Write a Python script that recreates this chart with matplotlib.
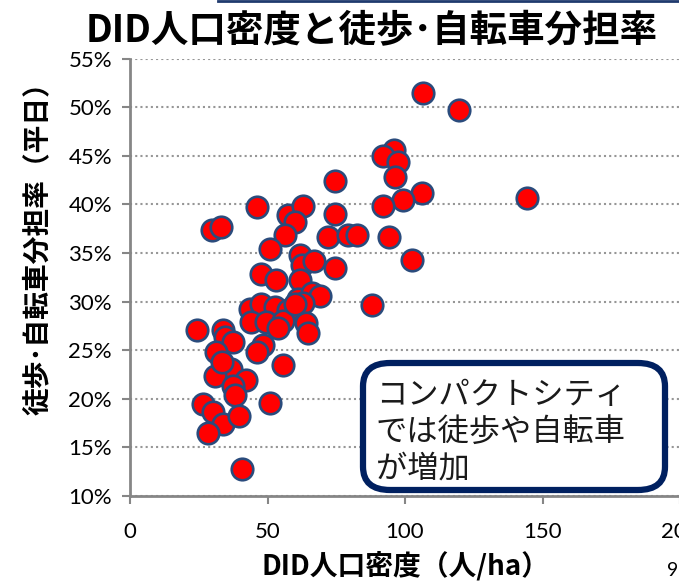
import matplotlib.pyplot as plt
from matplotlib.patches import FancyBboxPatch
from matplotlib.lines import Line2D
from matplotlib.ticker import FuncFormatter

plt.rcParams['font.family'] = ['Noto Sans CJK JP', 'DejaVu Sans']

# DID population density (persons/ha) and walk+bicycle share (%, weekday)
density = [106.4, 119.6, 144.5, 96.1, 91.9, 97.6, 96.4, 106.1, 99.1, 92.1,
           94.3, 102.4, 87.9, 74.5, 74.5, 71.9, 79.4, 82.7, 74.5, 46.1,
           29.7, 33.0, 57.6, 63.0, 60.0, 56.4, 50.9, 61.8, 62.4, 66.9,
           47.6, 53.1, 61.8, 61.2, 66.1, 69.1, 63.0, 43.6, 47.6, 52.7,
           57.6, 44.0, 49.5, 55.5, 64.0, 64.6, 53.9, 24.2, 33.7, 34.5,
           37.3, 31.3, 48.5, 46.3, 55.5, 36.6, 30.9, 42.2, 37.6, 38.2,
           26.4, 30.3, 33.7, 28.2, 39.8, 50.9, 40.6, 33.3, 60.0]
share = [51.5, 49.7, 40.7, 45.6, 45.0, 44.4, 42.8, 41.2, 40.5, 39.8,
         36.6, 34.3, 29.7, 42.4, 39.0, 36.6, 36.9, 36.9, 33.5, 39.7,
         37.4, 37.7, 38.9, 39.8, 38.2, 36.9, 35.4, 34.8, 33.8, 34.2,
         32.8, 32.2, 32.2, 30.3, 30.9, 30.6, 29.9, 29.2, 29.8, 29.4,
         29.1, 27.9, 27.9, 28.0, 27.8, 26.8, 27.3, 27.1, 27.1, 26.4,
         25.8, 24.8, 25.5, 24.8, 23.5, 23.1, 22.3, 21.9, 21.3, 20.4,
         19.5, 18.6, 17.4, 16.5, 18.2, 19.6, 12.8, 23.8, 29.8]

x_ticks = [0, 50, 100, 150, 200]
y_ticks = [10, 15, 20, 25, 30, 35, 40, 45, 50, 55]

fig = plt.figure(figsize=(6.79, 5.82), dpi=100)
ax = fig.add_axes([130 / 679, 86 / 582, 550 / 679, 437.4 / 582])

ax.scatter(density, share, s=240, c='#ff0000', edgecolors='#2a4b7c',
           linewidths=1.9, zorder=3, clip_on=False)

ax.set_xlim(0, 200)
ax.set_ylim(10, 55)
ax.set_xticks(x_ticks)
ax.set_yticks(y_ticks)
ax.yaxis.set_major_formatter(FuncFormatter(lambda v, p: f'{v:.0f}%'))
for lab in ax.get_xticklabels() + ax.get_yticklabels():
    lab.set_fontfamily('Lato')
    lab.set_fontsize(16)
ax.tick_params(axis='both', length=6, width=1.5, color='#868686', pad=7)
ax.tick_params(axis='x', pad=13)

ax.grid(axis='y', linestyle=(0, (1, 1.5)), color='#969696', linewidth=1.5)
ax.set_axisbelow(True)
for side in ['top', 'right']:
    ax.spines[side].set_visible(False)
for side in ['left', 'bottom']:
    ax.spines[side].set_color('#868686')
    ax.spines[side].set_linewidth(2)

fig.text(0.548, 0.947, 'DID人口密度と徒歩･自転車分担率', ha='center', va='center',
         fontsize=27, fontweight='bold')
fig.text(0.597, 0.028, 'DID人口密度（人/ha）', ha='center', va='center',
         fontsize=20, fontweight='bold')
fig.text(0.055, 0.585, '徒歩･自転車分担率（平日）', ha='center', va='center',
         rotation=90, fontsize=20, fontweight='bold')
fig.text(0.983, 0.02, '9', ha='left', va='center', fontsize=14,
         family=['Lato', 'DejaVu Sans'])

# top decoration line
fig.add_artist(Line2D([218 / 679, 1.0], [0.998, 0.998], color='#1f3a6e',
                      linewidth=2, transform=fig.transFigure))

box = FancyBboxPatch((363 / 679, 92 / 582), 302 / 679, 127 / 582,
                     boxstyle='round,pad=0,rounding_size=0.04',
                     transform=fig.transFigure, facecolor='white',
                     edgecolor='#002060', linewidth=4.5, zorder=5)
fig.add_artist(box)
fig.text(376 / 679, (582 - 432) / 582, 'コンパクトシティ\nでは徒歩や自転車\nが増加',
         ha='left', va='center', fontsize=22.5, linespacing=1.2, zorder=6,
         color='#1a1a1a')

fig.savefig('out.png', dpi=100)
